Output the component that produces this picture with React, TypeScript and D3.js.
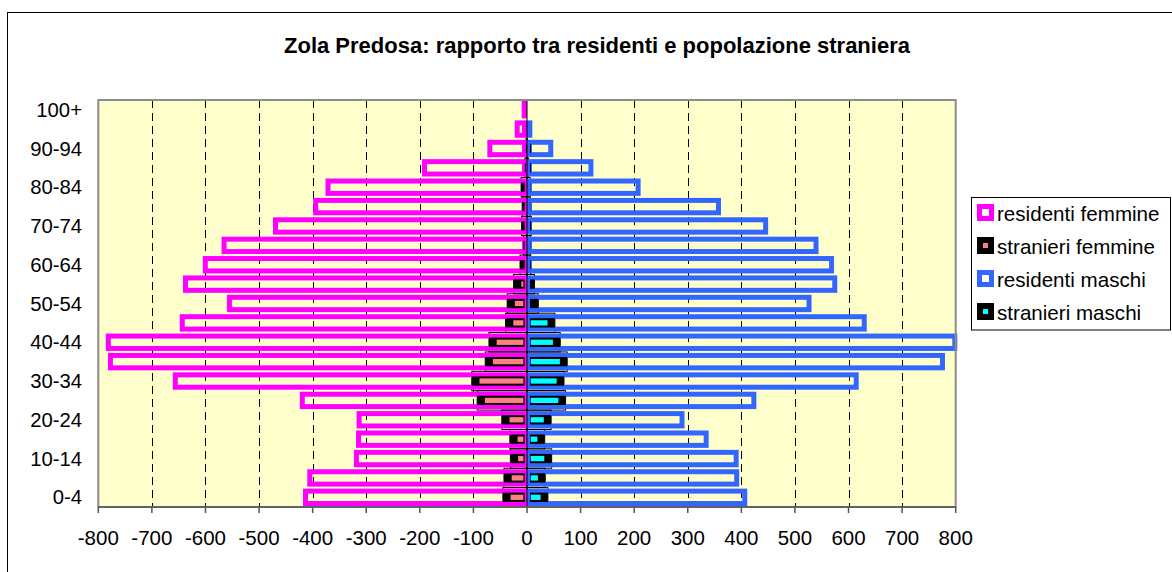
import React from "react";
import * as d3 from "d3";

const categories = ["0-4","5-9","10-14","15-19","20-24","25-29","30-34","35-39","40-44","45-49","50-54","55-59","60-64","65-69","70-74","75-79","80-84","85-89","90-94","95-99","100+"];
const residentiFemmine = [418, 410, 323, 319, 318, 424, 661, 782, 786, 648, 560, 642, 605, 570, 474, 399, 376, 196, 74, 23, 10];
const stranieriFemmine = [45, 43, 31, 32, 47, 93, 103, 78, 71, 40, 37, 25, 13, 7, 10, 9, 11, 4, 2, 0, 0];
const residentiMaschi = [411, 396, 395, 339, 294, 428, 619, 780, 803, 634, 531, 579, 573, 544, 450, 362, 212, 124, 49, 10, 0];
const stranieriMaschi = [39, 34, 46, 33, 45, 72, 69, 75, 62, 52, 21, 14, 7, 6, 8, 6, 6, 3, 1, 0, 0];
const xTicks = [-800,-700,-600,-500,-400,-300,-200,-100,0,100,200,300,400,500,600,700,800];
const yLabelCats = ["0-4","10-14","20-24","30-34","40-44","50-54","60-64","70-74","80-84","90-94","100+"];
const title = "Zola Predosa: rapporto tra residenti e popolazione straniera";
const legendItems = [
  { label: "residenti femmine", kind: "res", color: "#FF00FF" },
  { label: "stranieri femmine", kind: "str", color: "#FF8080" },
  { label: "residenti maschi", kind: "res", color: "#3366FF" },
  { label: "stranieri maschi", kind: "str", color: "#00FFFF" },
];

const FONT = "'Liberation Sans', Arial, sans-serif";
const MAG = "#FF00FF";
const BLUE = "#3366FF";
const SALMON = "#FF8080";
const CYAN = "#00FFFF";

export default function App() {
  const left = 98.3, right = 955.7, top = 100, bottom = 507;
  const x = d3.scaleLinear().domain([-800, 800]).range([left, right]);
  const y = d3.scaleBand().domain([...categories].reverse()).range([top, bottom]).padding(0);
  const step = y.step();
  const x0 = x(0);
  const SW = 5;

  const resBar = (cat: string, v: number, side: number, color: string, key: string) => {
    if (v <= 0) return null;
    const xa = side < 0 ? x(-v) : x0;
    const xb = side < 0 ? x0 : x(v);
    const yt = (y(cat) as number) + 1;
    const h = step - 2;
    const w = xb - xa;
    if (w <= SW) return <rect key={key} x={xa} y={yt} width={w} height={h} fill={color} />;
    return (
      <rect key={key} x={xa + SW / 2} y={yt + SW / 2} width={w - SW} height={h - SW}
        fill="none" stroke={color} strokeWidth={SW} />
    );
  };

  const strOutline = (cat: string, v: number, side: number, key: string) => {
    if (v <= 0) return null;
    const xa = side < 0 ? x(-v) : x0;
    const xb = side < 0 ? x0 : x(v);
    const yt = y(cat) as number;
    return <rect key={key} x={xa} y={yt} width={xb - xa} height={step} fill="none" stroke="#000" strokeWidth={1} />;
  };

  const strBar = (cat: string, v: number, side: number, color: string, key: string) => {
    if (v <= 0) return null;
    const bh = 9.3;
    const yc = (y(cat) as number) + step / 2;
    const yt = yc - bh / 2;
    let xa: number, xb: number, ca: number, cb: number;
    if (side < 0) {
      xa = x(-v); xb = x0 - 2.3;
      ca = xa + 7.7; cb = xb - 1.3;
    } else {
      xa = x0 + 3; xb = x(v);
      ca = xa + 0.7; cb = xb - 7.3;
    }
    if (xb - xa <= 0) xb = xa + 1;
    return (
      <g key={key}>
        <rect x={xa} y={yt} width={xb - xa} height={bh} fill="#000" />
        {cb - ca > 0.5 ? <rect x={ca} y={yt + 2} width={cb - ca} height={bh - 4} fill={color} /> : null}
      </g>
    );
  };

  return (
    <svg width={1172} height={572} style={{ position: "absolute", left: 0, top: 0, background: "#fff" }}
      fontFamily={FONT}>
      <rect x={7.5} y={12.5} width={1200} height={600} fill="#fff" stroke="#000" strokeWidth={1} />
      <text x={597} y={53} textAnchor="middle" fontWeight="bold" fontSize={22}>{title}</text>

      <rect x={left} y={top} width={right - left} height={bottom - top} fill="#FFFFCC" />
      {xTicks.filter(t => t !== 0 && Math.abs(t) !== 800).map(t => (
        <line key={"g" + t} x1={Math.round(x(t)) + 0.5} x2={Math.round(x(t)) + 0.5} y1={top} y2={bottom}
          stroke="#000" strokeWidth={1} strokeDasharray="8,5" />
      ))}

      {categories.map((c, i) => strOutline(c, stranieriFemmine[i], -1, "sof" + i))}
      {categories.map((c, i) => strOutline(c, stranieriMaschi[i], 1, "som" + i))}
      {categories.map((c, i) => resBar(c, residentiFemmine[i], -1, MAG, "rf" + i))}
      {categories.map((c, i) => resBar(c, residentiMaschi[i], 1, BLUE, "rm" + i))}
      {categories.map((c, i) => strBar(c, stranieriFemmine[i], -1, SALMON, "sf" + i))}
      {categories.map((c, i) => strBar(c, stranieriMaschi[i], 1, CYAN, "sm" + i))}

      <line x1={x0} x2={x0} y1={top} y2={bottom} stroke="#000" strokeWidth={1} />
      <rect x={left} y={top} width={right - left} height={bottom - top} fill="none" stroke="#8C8C8C" strokeWidth={2} />
      <line x1={left} x2={right} y1={bottom} y2={bottom} stroke="#555" strokeWidth={1.5} />
      {xTicks.map(t => (
        <g key={"t" + t}>
          <line x1={x(t)} x2={x(t)} y1={bottom} y2={bottom + 6} stroke="#555" strokeWidth={1.5} />
          <text x={x(t)} y={545} textAnchor="middle" fontSize={20.5}>{t}</text>
        </g>
      ))}
      {yLabelCats.map(c => (
        <text key={"y" + c} x={82} y={(y(c) as number) + step / 2} dy="0.35em" textAnchor="end" fontSize={20.3}>{c}</text>
      ))}

      <rect x={971.5} y={197.5} width={199} height={132.5} fill="#fff" stroke="#000" strokeWidth={1} />
      {legendItems.map((it, i) => {
        const base = 221 + i * 33;
        const sx = 977, sy = base - 17, s = 17;
        return (
          <g key={"l" + i}>
            {it.kind === "res" ? (
              <rect x={sx + 2.5} y={sy + 2.5} width={s - 5} height={s - 5} fill="#fff" stroke={it.color} strokeWidth={5} />
            ) : (
              <g>
                <rect x={sx} y={sy} width={s} height={s} fill="#000" />
                <rect x={sx + 6} y={sy + 6} width={5} height={5} fill={it.color} />
              </g>
            )}
            <text x={997} y={base} fontSize={20.6}>{it.label}</text>
          </g>
        );
      })}
    </svg>
  );
}
